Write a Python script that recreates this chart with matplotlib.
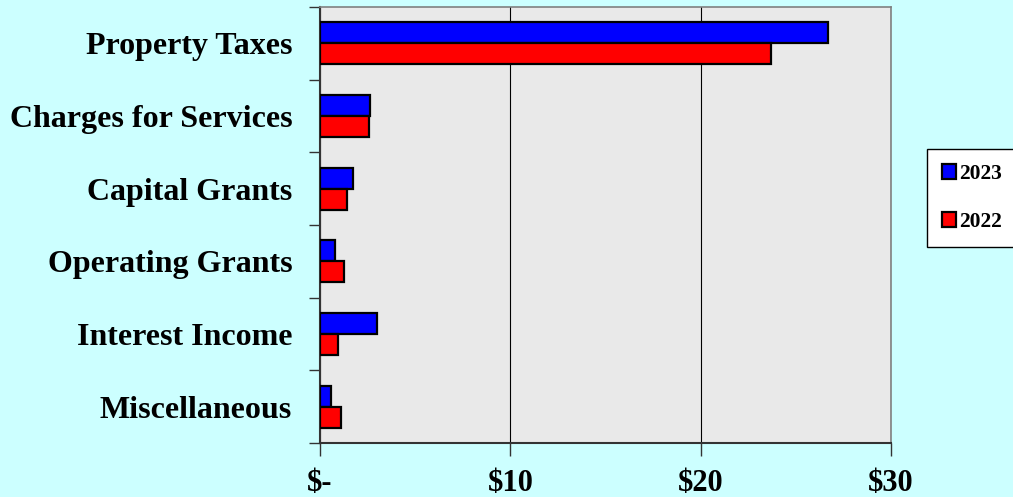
import matplotlib
matplotlib.use('Agg')
import matplotlib.pyplot as plt
import numpy as np

# datos (millones de $)
categorias = ['Property Taxes', 'Charges for Services', 'Capital Grants',
              'Operating Grants', 'Interest Income', 'Miscellaneous']
valores_2023 = [26.7, 2.63, 1.72, 0.77, 3.0, 0.56]
valores_2022 = [23.7, 2.57, 1.40, 1.25, 0.96, 1.10]
ticks_x = [0, 10, 20, 30]
etiquetas_x = ['$-', '$10', '$20', '$30']

plt.rcParams['font.family'] = ['Liberation Serif', 'DejaVu Serif']

fig = plt.figure(figsize=(10.13, 4.97), dpi=100)
fig.patch.set_facecolor('#CCFFFF')
ax = fig.add_axes([320/1013, 1 - 443/497, 571/1013, 436/497])
ax.set_facecolor('#E9E9E9')

y = np.arange(len(categorias))
h = 0.29
b1 = ax.barh(y - h/2, valores_2023, height=h, color='#0000FF',
             edgecolor='black', linewidth=1.6, label='2023', zorder=3)
b2 = ax.barh(y + h/2, valores_2022, height=h, color='#FF0000',
             edgecolor='black', linewidth=1.6, label='2022', zorder=3)

ax.set_xlim(0, 30)
ax.set_ylim(len(categorias) - 0.5, -0.5)

ax.set_xticks(ticks_x)
ax.set_xticklabels(etiquetas_x, fontsize=22, fontweight='bold')
ax.tick_params(axis='x', length=9, width=1, color='#333333', pad=10)

ax.set_yticks(y)
ax.set_yticklabels(categorias, fontsize=23, fontweight='bold')
ax.tick_params(axis='y', which='major', length=0, pad=20)
ax.set_yticks(np.arange(-0.5, len(categorias)), minor=True)
ax.tick_params(axis='y', which='minor', length=8, width=1, color='#333333')

ax.grid(axis='x', color='black', linewidth=0.8, zorder=1)
for lado in ['top', 'right']:
    ax.spines[lado].set_color('#808080')
    ax.spines[lado].set_linewidth(1.2)
for lado in ['left', 'bottom']:
    ax.spines[lado].set_color('#333333')
    ax.spines[lado].set_linewidth(1.5)

leg = fig.legend(handles=[b1, b2], loc='upper left',
                 bbox_to_anchor=(927/1013, 1 - 149/497),
                 prop={'size': 15.5, 'weight': 'bold'},
                 frameon=True, fancybox=False, edgecolor='black',
                 facecolor='white', framealpha=1,
                 handlelength=0.65, handleheight=0.65, handletextpad=0.15,
                 labelspacing=1.3, borderpad=0.7, borderaxespad=0)
leg.get_frame().set_linewidth(1)

plt.savefig('out.png', dpi=100, facecolor=fig.get_facecolor())
